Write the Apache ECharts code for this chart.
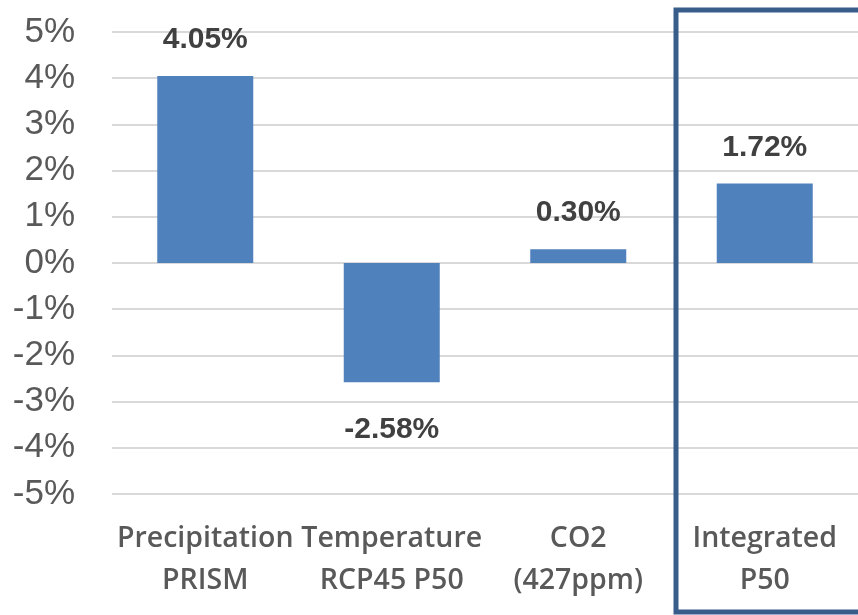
<!DOCTYPE html>
<html>
<head>
<meta charset="utf-8">
<style>html,body{margin:0;padding:0;background:#fff;}#c{width:858px;height:615px;}</style>
<script src="https://cdn.jsdelivr.net/npm/echarts@6/dist/echarts.min.js"></script>
</head>
<body>
<div id="c"></div>
<script>
const categories = ['Precipitation\nPRISM', 'Temperature\nRCP45 P50', 'CO2\n(427ppm)', 'Integrated\nP50'];
const values = [4.05, -2.58, 0.30, 1.72];
const yMin = -5, yMax = 5, yStep = 1;

const chart = echarts.init(document.getElementById('c'), null, {renderer: 'canvas'});
chart.setOption({
  animation: false,
  grid: {left: 112, top: 32, width: 752, height: 462, containLabel: false},
  xAxis: {
    type: 'category',
    data: categories,
    axisLine: {show: false},
    axisTick: {show: false},
    axisLabel: {
      interval: 0,
      margin: 24,
      fontFamily: 'Open Sans',
      fontWeight: 600,
      fontSize: 28.5,
      lineHeight: 42,
      color: '#595959'
    }
  },
  yAxis: {
    type: 'value',
    min: yMin, max: yMax, interval: yStep,
    axisLine: {show: false},
    axisTick: {show: false},
    splitLine: {lineStyle: {color: '#D9D9D9', width: 2}},
    axisLabel: {
      formatter: v => v + '%',
      margin: 37,
      fontFamily: 'Liberation Sans',
      fontSize: 35,
      color: '#595959'
    }
  },
  series: [{
    type: 'bar',
    barWidth: 96,
    itemStyle: {color: '#4F81BD'},
    data: values.map(v => ({
      value: v,
      label: {position: v >= 0 ? 'top' : 'bottom', distance: v >= 0 ? 21 : 33}
    })),
    label: {
      show: true,
      formatter: p => p.value.toFixed(2) + '%',
      fontFamily: 'Liberation Sans',
      fontWeight: 'bold',
      fontSize: 30,
      color: '#404040'
    }
  }],
  graphic: [{
    type: 'rect',
    shape: {x: 676, y: 10, width: 220, height: 602},
    style: {fill: 'none', stroke: '#385D8A', lineWidth: 5},
    z: 100
  }]
});
</script>
</body>
</html>
